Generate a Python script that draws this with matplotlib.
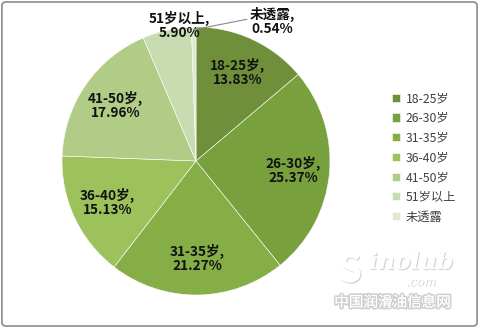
import numpy as np
import matplotlib
matplotlib.use('Agg')
from matplotlib import pyplot as plt
from matplotlib.patches import FancyBboxPatch
import matplotlib.patheffects as pe

plt.rcParams['font.family'] = ['Noto Sans CJK SC', 'DejaVu Sans']

# data
labels = ['18-25岁', '26-30岁', '31-35岁', '36-40岁', '41-50岁', '51岁以上', '未透露']
values = [13.83, 25.37, 21.27, 15.13, 17.96, 5.90, 0.54]
colors = ['#6f8f3b', '#78a03d', '#86ae47', '#9dc25c', '#b0cc87', '#c9dbb1', '#dde8d0']

fig = plt.figure(figsize=(4.79, 3.28), dpi=100)
ax = fig.add_axes([62 / 479, 33 / 328, 268 / 479, 268 / 328])

wedges, _ = ax.pie(values, colors=colors, startangle=90, counterclock=False,
                   wedgeprops=dict(edgecolor='white', linewidth=0.4))
ax.set_xlim(-1, 1)
ax.set_ylim(-1, 1)
ax.set_aspect('equal')

lab_style = dict(ha='center', va='center', fontsize=9.8, fontweight='bold',
                 color='#111111', linespacing=1.0)

# slice labels
for i, w in enumerate(wedges):
    mid = np.deg2rad((w.theta1 + w.theta2) / 2)
    txt = labels[i] + ',\n' + '%.2f%%' % values[i]
    if i < 5:
        r = 0.73
        ax.text(r * np.cos(mid), r * np.sin(mid), txt, **lab_style)
    elif i == 5:
        # small slice, label sits on the rim
        ax.text(np.cos(mid) * 1.04 + 0.1, np.sin(mid) * 1.04, txt, **lab_style)
    else:
        ax.annotate(txt, xy=(np.cos(mid), np.sin(mid) * 0.98), xytext=(0.57, 1.04),
                    annotation_clip=False,
                    arrowprops=dict(arrowstyle='-', color='#888888', lw=0.8,
                                    shrinkA=0, shrinkB=0, relpos=(0.0, 0.6)),
                    **lab_style)

# legend
leg = fig.legend(wedges, labels, loc='upper left', bbox_to_anchor=(381 / 479, 1 - 81 / 328),
                 frameon=False, fontsize=8.8, handlelength=0.65, handleheight=0.65,
                 handletextpad=0.45, labelspacing=0.55, labelcolor='#404040')

# watermark
shadow = [pe.withSimplePatchShadow(offset=(0.8, -0.8), shadow_rgbFace='#aaaaaa', alpha=0.5)]
fig.text(0.705, 0.14, 'S', fontsize=28, fontweight='bold', style='italic', color='white',
         path_effects=shadow)
fig.text(0.77, 0.18, 'inolub', fontsize=17, fontweight='bold', style='italic',
         family='DejaVu Serif', color='white', path_effects=shadow)
fig.text(0.91, 0.13, '.com', fontsize=9, style='italic', family='DejaVu Serif',
         color='white', ha='right', path_effects=shadow)
fig.text(0.82, 0.065, '中国润滑油信息网', fontsize=10.5, color='white', ha='center',
         path_effects=[pe.withStroke(linewidth=2.5, foreground='#d0d0d0'), pe.Normal()])

# figure border
fig.patches.append(FancyBboxPatch((0.004, 0.006), 0.992, 0.988, boxstyle='round,pad=0,rounding_size=0.01',
                                  transform=fig.transFigure, fill=False,
                                  edgecolor='#8c8c8c', linewidth=1.2))

fig.savefig('out.png', dpi=100)
